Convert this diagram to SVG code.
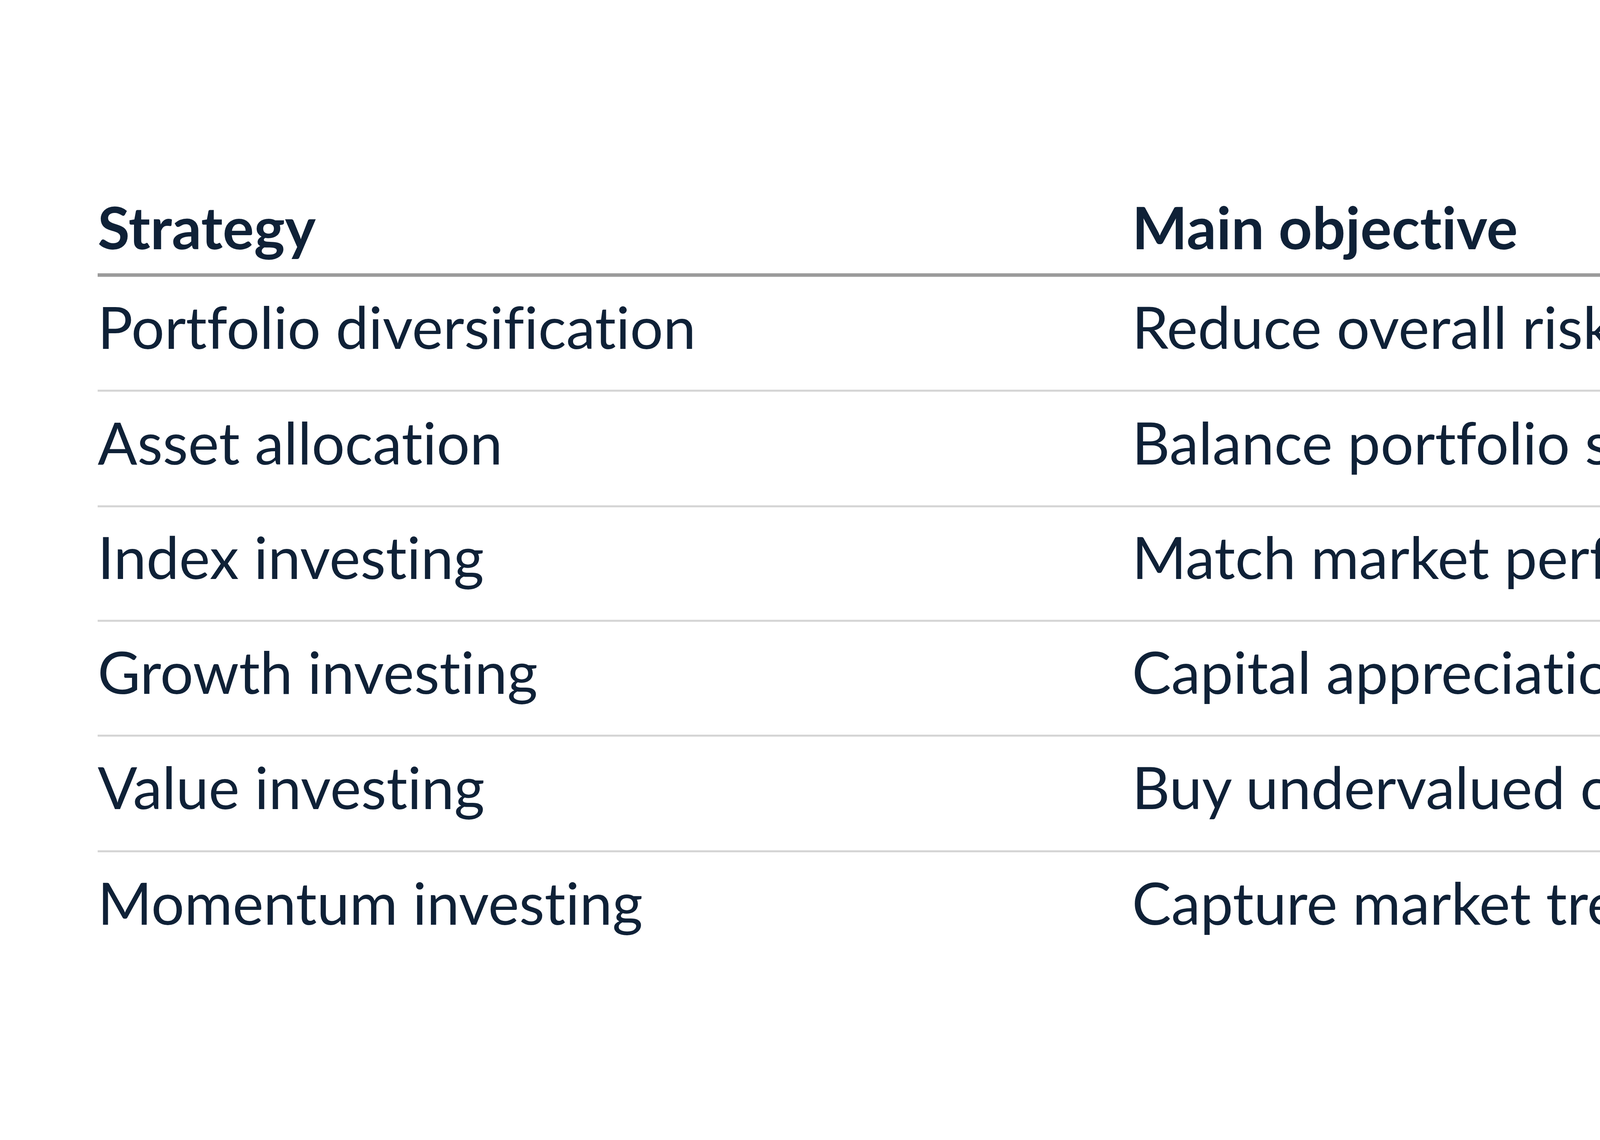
<svg xmlns="http://www.w3.org/2000/svg" width="8000" height="2918" viewBox="0 0 8000 2918">
<style>
text{font-family:Lato,"Noto Sans",sans-serif;fill:#0f2137;font-size:150px;font-variant-ligatures:no-common-ligatures}
.h{font-weight:bold}
.hl{stroke:#9a9a9a;stroke-width:9}
.rl{stroke:#d4d4d4;stroke-width:5}
</style>
<rect width="8000" height="2918" fill="#fff"/>
<g id="connectors">
<line class="hl" x1="250" y1="704" x2="7750" y2="704"/>
<line class="rl" x1="250" y1="1000" x2="7750" y2="1000"/>
<line class="rl" x1="250" y1="1296" x2="7750" y2="1296"/>
<line class="rl" x1="250" y1="1589" x2="7750" y2="1589"/>
<line class="rl" x1="250" y1="1883" x2="7750" y2="1883"/>
<line class="rl" x1="250" y1="2179" x2="7750" y2="2179"/>
</g>
<g id="header">
<text class="h" x="250" y="638">Strategy</text>
<text class="h" x="2898" y="638">Main objective</text>
<text class="h" x="5969" y="638">Best suited for</text>
</g>
<g id="row1"><text x="250" y="893">Portfolio diversification</text><text x="2898" y="893">Reduce overall risk</text><text x="5969" y="893">All investors</text></g>
<g id="row2"><text x="250" y="1189">Asset allocation</text><text x="2898" y="1189">Balance portfolio structure</text><text x="5969" y="1189">All investors</text></g>
<g id="row3"><text x="250" y="1482">Index investing</text><text x="2898" y="1482">Match market performance</text><text x="5969" y="1482">Passive investors</text></g>
<g id="row4"><text x="250" y="1776">Growth investing</text><text x="2898" y="1776">Capital appreciation</text><text x="5969" y="1776">Long-term growth seekers</text></g>
<g id="row5"><text x="250" y="2071">Value investing</text><text x="2898" y="2071">Buy undervalued companies</text><text x="5969" y="2071">Patient investors</text></g>
<g id="row6"><text x="250" y="2367">Momentum investing</text><text x="2898" y="2367">Capture market trends</text><text x="5969" y="2367">Active investors</text></g>
</svg>
